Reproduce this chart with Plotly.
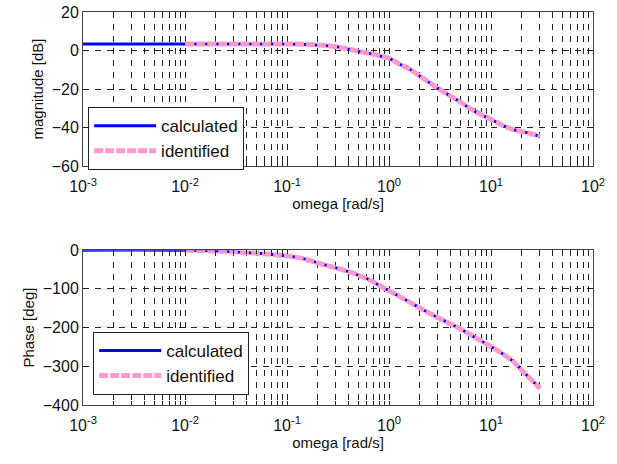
import plotly.graph_objects as go

# ---- data ----
mag_omega = [0.001, 0.01, 0.05, 0.134, 0.28, 0.415, 0.6, 1.0, 1.28, 1.6, 2.0, 2.93, 4.6, 6.7, 10.1, 15.4, 24.1, 30.2]
mag_db    = [3.4, 3.4, 3.4, 3.3, 2.2, 0.5, -1.2, -4.1, -7.2, -9.7, -13.2, -19.2, -25.6, -31.1, -35.9, -40.5, -43.1, -44.5]

ph_omega = [0.001, 0.01, 0.03, 0.085, 0.134, 0.21, 0.385, 0.6, 0.91, 1.38, 2.09, 3.16, 4.97, 7.24, 11.4, 16.6, 20.0, 30.2]
ph_deg   = [0, -0.5, -4.4, -13, -20, -34.5, -54, -73, -99, -125, -152, -177, -203, -228, -258, -288, -310, -357]

ident_start = 0.01  # identified model plotted from 1e-2 on

ident_mag_omega = [w for w in mag_omega if w >= ident_start]
ident_mag_db = [v for w, v in zip(mag_omega, mag_db) if w >= ident_start]
ident_ph_omega = [w for w in ph_omega if w >= ident_start]
ident_ph_deg = [v for w, v in zip(ph_omega, ph_deg) if w >= ident_start]

x_major = [1e-3, 1e-2, 1e-1, 1e0, 1e1, 1e2]
x_major_text = ["10<sup>-3</sup>", "10<sup>-2</sup>", "10<sup>-1</sup>", "10<sup>0</sup>", "10<sup>1</sup>", "10<sup>2</sup>"]
mag_ticks = [-60, -40, -20, 0, 20]
ph_ticks = [-400, -300, -200, -100, 0]

# ---- tick positions (major + minor) ----
xt, xtt = [], []
for i, d in enumerate(x_major):
    xt.append(d); xtt.append(x_major_text[i])
    if i < len(x_major) - 1:
        for m in range(2, 10):
            xt.append(d * m); xtt.append("")

FONT = "Liberation Sans, Arial, sans-serif"
BLUE = "#0000FF"
PINK = "#FF9ACD"

fig = go.Figure()

def add_pair(xa, ya, leg, xw, yw, xi, yi):
    fig.add_trace(go.Scatter(x=xw, y=yw, mode="lines", name="calculated",
                             line=dict(color=BLUE, width=3, shape="spline"),
                             xaxis=xa, yaxis=ya, legend=leg, legendgroup=leg + "a"))
    fig.add_trace(go.Scatter(x=xi, y=yi, mode="lines", name="identified",
                             line=dict(color=PINK, width=5, dash="9px,2px", shape="spline"),
                             xaxis=xa, yaxis=ya, legend=leg, legendgroup=leg + "b"))

add_pair("x", "y", "legend", mag_omega, mag_db, ident_mag_omega, ident_mag_db)
add_pair("x2", "y2", "legend2", ph_omega, ph_deg, ident_ph_omega, ident_ph_deg)

def xaxis(domain_anchor):
    return dict(type="log", range=[-3, 2], tickvals=xt, ticktext=xtt,
                ticks="inside", ticklen=4, tickcolor="#222", mirror="allticks",
                showline=True, linecolor="#444", linewidth=1,
                showgrid=True, gridcolor="#222", griddash="6px,6px", gridwidth=1,
                zeroline=False, anchor=domain_anchor, automargin=False,
                ticklabelstandoff=6,
                title=dict(text="omega [rad/s]", font=dict(size=15, family=FONT, color="#111"), standoff=4),
                tickfont=dict(size=16, family=FONT, color="#111"), domain=[0, 1])

def yaxis(rng, ticks, title, domain, anchor):
    return dict(range=rng, tickvals=ticks, ticks="inside", ticklen=4, tickcolor="#222",
                mirror="allticks", showline=True, linecolor="#444", linewidth=1,
                showgrid=True, gridcolor="#222", griddash="6px,6px", gridwidth=1,
                zeroline=False, domain=domain, anchor=anchor, automargin=False,
                title=dict(text=title, font=dict(size=15, family=FONT, color="#111"), standoff=4),
                tickfont=dict(size=16, family=FONT, color="#111"))

legend_common = dict(bgcolor="white", bordercolor="#222", borderwidth=1,
                     font=dict(size=17, family=FONT, color="#111"),
                     xanchor="left", yanchor="top", itemwidth=62, tracegroupgap=0,
                     itemclick=False)

fig.update_layout(
    width=617, height=464,
    margin=dict(l=83, r=24, t=12, b=59, autoexpand=False),
    paper_bgcolor="white", plot_bgcolor="white",
    font=dict(family=FONT),
    xaxis=xaxis("y"),
    yaxis=yaxis([-60, 20], mag_ticks, "magnitude [dB]", [0.608, 1.0], "x"),
    xaxis2=xaxis("y2"),
    yaxis2=yaxis([-400, 0], ph_ticks, "Phase [deg]", [0.0, 0.394], "x2"),
    legend=dict(x=0.01, y=0.758, **legend_common),
    legend2=dict(x=0.02, y=0.186, **legend_common),
    showlegend=True,
)

fig.write_html("out.html")
